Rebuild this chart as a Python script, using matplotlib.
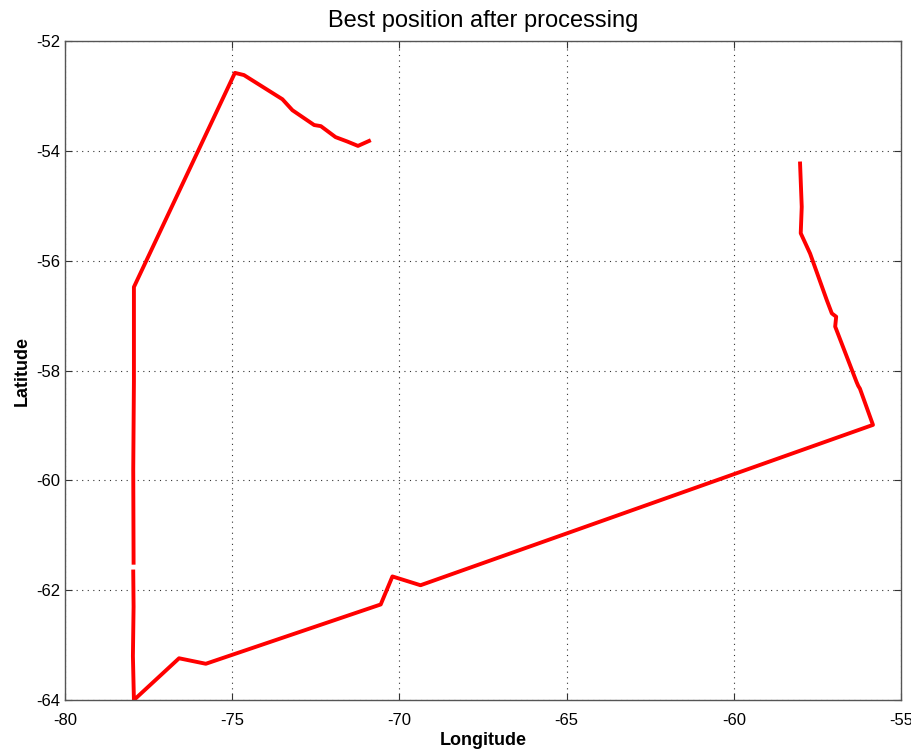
import numpy as np
import matplotlib.pyplot as plt

plt.rcParams['font.family'] = ['Liberation Sans Narrow', 'Liberation Sans', 'DejaVu Sans']

# ship track, NaN marks the short data gap on the western leg
lon = [-70.91, -71.24, -71.56, -71.91, -72.35, -72.55, -73.20, -73.50, -74.65, -74.92,
       -77.94, -77.94, -77.96, -77.95, np.nan,
       -77.96, -77.95, -77.97, -77.94, -76.59, -75.79, -70.56, -70.21, -69.37,
       -55.84, -56.23, -56.28, -56.33, -56.97, -56.94, -57.07, -57.22, -57.72,
       -58.00, -57.97, -58.02]
lat = [-53.82, -53.91, -53.83, -53.75, -53.55, -53.53, -53.26, -53.06, -52.62, -52.58,
       -56.48, -58.20, -59.80, -61.50, np.nan,
       -61.66, -62.30, -63.20, -64.00, -63.24, -63.34, -62.26, -61.75, -61.91,
       -58.99, -58.33, -58.28, -58.21, -57.20, -57.02, -56.96, -56.72, -55.87,
       -55.50, -55.02, -54.23]

xticks = [-80, -75, -70, -65, -60, -55]
yticks = [-64, -62, -60, -58, -56, -54, -52]

fig = plt.figure(figsize=(9.12, 7.54), dpi=100)
ax = fig.add_axes([0.0713, 0.0716, 0.9167, 0.874])
ax.plot(lon, lat, color='#ff0000', lw=2.8, solid_joinstyle='round')

ax.set_xlim(-80, -55)
ax.set_ylim(-64, -52)
ax.set_xticks(xticks)
ax.set_yticks(yticks)
ax.set_xticklabels([str(t) for t in xticks])
ax.set_yticklabels([str(t) for t in yticks])
ax.tick_params(direction='in', length=5, width=0.8, labelsize=12, colors='#333333',
               labelcolor='black', top=True, right=True)
ax.tick_params(axis='x', pad=9)
ax.grid(True, linestyle=(0, (1, 4)), color='#333333', lw=0.8)
for s in ax.spines.values():
    s.set_color('#555555')
    s.set_linewidth(1.0)

ax.set_xlabel('Longitude', fontsize=13, fontweight='bold', labelpad=3)
ax.set_ylabel('Latitude', fontsize=13, fontweight='bold')
ax.set_title('Best position after processing', fontsize=17, pad=10)

fig.savefig('out.png', dpi=100)
